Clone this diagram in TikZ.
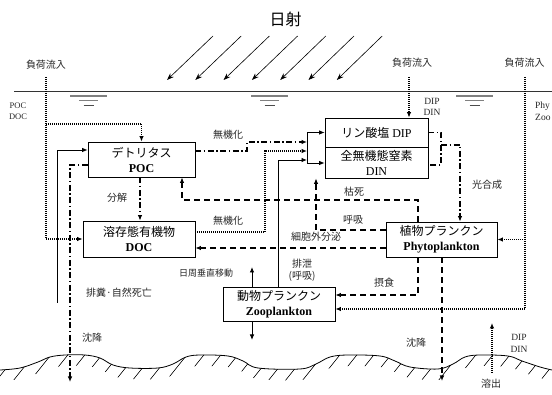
\documentclass[tikz,border=0pt]{standalone}
\usepackage{fontspec}
\setmainfont{Liberation Serif}
\newfontfamily\jp{Noto Sans CJK JP}
\usetikzlibrary{arrows.meta}
\begin{document}
\begin{tikzpicture}[x=1pt,y=-1pt,
  box/.style={draw, line width=0.7pt, align=center, inner sep=0pt, fill=white, font=\fontsize{12}{15}\selectfont},
  arr/.style={-{Latex[length=5.5pt,width=4.5pt]}},
  ldash/.style={line width=1.6pt, dash pattern=on 6pt off 4pt},
  ldot/.style={line width=1.4pt, dash pattern=on 1pt off 1pt},
  ldd/.style={line width=1.1pt, dash pattern=on 6pt off 2.5pt on 1.5pt off 2.5pt},
  lsol/.style={line width=0.9pt},
  jlbl/.style={font=\jp\fontsize{10}{12}\selectfont, inner sep=0pt, text=black!85},
  elbl/.style={font=\fontsize{9.5}{11.5}\selectfont, inner sep=0pt, text=black!85, align=center},
  sun/.style={line width=0.6pt, -{Stealth[length=7pt,width=5pt]}},
]
\useasboundingbox (0,0) rectangle (552,395);

% title and sun rays
\node[font=\jp\fontsize{16}{18}\selectfont, inner sep=0pt] (title) at (285.5,19) {日射};
\foreach \i in {0,...,6} \draw[sun] (213+28.2*\i,36) -- (167+28.3*\i,80);

% water surface
\draw[line width=0.7pt, black!80] (14,91.5) -- (552,91.5);
\foreach \c in {88.5,269.5,474.5} {
  \draw[gray, line width=1.4pt] (\c-18.5,96) -- (\c+18.5,96);
  \draw[gray, line width=1pt] (\c-9.5,100.7) -- (\c+9.5,100.7);
  \draw[black!70, line width=0.8pt] (\c-5,105.5) -- (\c+5,105.5);
}

% inflow labels
\node[jlbl] (inLlbl) at (46,65) {負荷流入};
\node[jlbl] (inMlbl) at (412,63) {負荷流入};
\node[jlbl] (inRlbl) at (524.5,63) {負荷流入};
\node[elbl, font=\fontsize{8.5}{11}\selectfont] (pocdoc) at (18,111.5) {POC\\DOC};
\node[elbl, align=left, anchor=west, font=\fontsize{9.5}{11.5}\selectfont] (phyzoo) at (535,111.5) {Phy\\Zoo};
\node[elbl] (dipdin1) at (432,107) {DIP\\DIN};

% boxes
\node[box, minimum width=107pt, minimum height=35pt] (POC) at (141.5,159.5) {{\jp デトリタス}\\\textbf{POC}};
\node[box, minimum width=112pt, minimum height=36pt] (DOC) at (139,239) {{\jp 溶存態有機物}\\\textbf{DOC}};
\node[box, minimum width=103pt, minimum height=29pt] (DIP) at (376.5,132.5) {{\jp リン酸塩} DIP};
\node[box, minimum width=103pt, minimum height=31pt] (DIN) at (376.5,162.5) {{\jp 全無機態窒素}\\DIN};
\node[box, minimum width=111pt, minimum height=35pt] (PHY) at (441.5,239.5) {{\jp 植物プランクン}\\\textbf{Phytoplankton}};
\node[box, minimum width=112pt, minimum height=34pt] (ZOO) at (279,304) {{\jp 動物プランクン}\\\textbf{Zooplankton}};

% left inflow
\coordinate (inL) at (46,77);
\draw[ldot,arr] (inL) -- (inL |- DOC.west) -- (DOC.west);
\draw[ldot,arr] (46,124) -- (POC.north |- 0,124) -- (POC.north);
% middle inflow
\coordinate (inM) at (409,77);
\draw[ldot,arr] (inM) -- (inM |- DIP.north);
% right inflow
\coordinate (inR) at (525,77);
\draw[ldot,arr] (inR) -- (525,309) -- (ZOO.east |- 0,309);
\draw[ldot,arr] (525,239.5) -- (PHY.east);

% junction to nutrients
\coordinate (Jt) at (307,132.5);
\coordinate (Jb) at (307,163);
\draw[lsol] (Jt) -- (Jb);
\draw[lsol,arr] (Jt) -- (DIP.west);
\draw[lsol,arr] (Jb) -- (DIN.west |- Jb);

% mineralisation from POC
\draw[ldd,arr] (POC.east |- 0,151) -- (247,151) -- (247,142) -- (307,142);
\node[jlbl] (min1) at (228,135) {無機化};
% mineralisation from DOC
\draw[ldot,arr] (DOC.east |- 0,232) -- (265,232) -- (265,151) -- (307,151);
\node[jlbl] (min2) at (228,221) {無機化};
% excretion from zooplankton
\draw[lsol,arr] (ZOO.north -| 278,0) -- (278,160) -- (307,160);
\node[jlbl, align=center] (excr) at (302,270.5) {排泄\\(呼吸)};

% decomposition
\draw[ldd,arr] (POC.south -| 140,0) -- (DOC.north -| 140,0);
\node[jlbl] (decomp) at (117,198) {分解};

% sinking of POC
\draw[ldd,arr] (POC.west |- 0,165) -- (70,165) -- (70,382);
\node[jlbl] (sink1) at (92,338) {沈降};

% feces / natural death
\coordinate (fd) at (57,303);
\draw[lsol,arr] (fd) -- (57,150) -- (POC.west |- 0,150);
\node[jlbl] (feces) at (119,293) {排糞·自然死亡};

% phytoplankton flows
\draw[ldash,arr] (PHY.north -| 418,0) -- (418,200) -- (182,200) -- (POC.south -| 182,0);
\node[jlbl] (death) at (354,192) {枯死};
\draw[ldash,arr] (PHY.west |- 0,230) -- (316,230) -- (DIN.south -| 316,0);
\node[jlbl] (resp) at (353,220) {呼吸};
\draw[ldash,arr] (PHY.west |- 0,248) -- (DOC.east |- 0,248);
\node[jlbl] (exud) at (316,237) {細胞外分泌};
\draw[ldash,arr] (PHY.south -| 418,0) -- (418,295) -- (ZOO.east |- 0,295);
\node[jlbl] (graz) at (384,283) {摂食};
\draw[ldash,arr] (PHY.south -| 442,0) -- (442,381);
\node[jlbl] (sink2) at (416,343) {沈降};

% photosynthesis
\draw[ldd] (DIP.east) -- (441,132.5) -- (441,165) -- (DIN.east |- 0,165);
\draw[ldd,arr] (441,145) -- (460,145) -- (PHY.north -| 460,0);
\node[jlbl] (photo) at (487,185) {光合成};

% diel vertical migration
\draw[lsol,arr] (ZOO.north -| 252,0) -- (252,267);
\draw[lsol,arr] (ZOO.south -| 252,0) -- (252,340);
\node[jlbl, font=\jp\fontsize{9}{11}\selectfont] (dvm) at (206,273) {日周垂直移動};

% release from sediment
\coordinate (rel) at (492,373);
\draw[ldot,arr] (rel) -- (492,323);
\node[elbl] (dipdin2) at (519,343.5) {DIP\\DIN};
\node[jlbl] (elut) at (491,384) {溶出};

% sediment hatching
\begin{scope}
 \clip plot[smooth,tension=0.6] coordinates {(0,370) (20,368) (38,362) (50,357) (65,355) (85,355) (100,358) (113,365) (130,368) (158,368) (173,364) (186,357) (200,355) (228,356) (243,361) (258,368) (300,369) (316,364) (330,357) (348,355) (380,356) (395,361) (410,367) (438,369) (453,364) (465,357) (480,355) (508,356) (522,361) (540,367) (552,370)} -- (552,395) -- (0,395) -- cycle;
 \begin{scope}[shift={(0,11)}]
  \clip (0,0) -- plot[smooth,tension=0.6] coordinates {(0,370) (20,368) (38,362) (50,357) (65,355) (85,355) (100,358) (113,365) (130,368) (158,368) (173,364) (186,357) (200,355) (228,356) (243,361) (258,368) (300,369) (316,364) (330,357) (348,355) (380,356) (395,361) (410,367) (438,369) (453,364) (465,357) (480,355) (508,356) (522,361) (540,367) (552,370)} -- (552,0) -- cycle;
  \foreach \i in {0,...,35} \draw[line width=0.6pt] (-25+17*\i,375) -- (-25+17*\i+28,340);
 \end{scope}
\end{scope}
\draw[line width=0.8pt] plot[smooth,tension=0.6] coordinates {(0,370) (20,368) (38,362) (50,357) (65,355) (85,355) (100,358) (113,365) (130,368) (158,368) (173,364) (186,357) (200,355) (228,356) (243,361) (258,368) (300,369) (316,364) (330,357) (348,355) (380,356) (395,361) (410,367) (438,369) (453,364) (465,357) (480,355) (508,356) (522,361) (540,367) (552,370)};
\end{tikzpicture}
\end{document}
